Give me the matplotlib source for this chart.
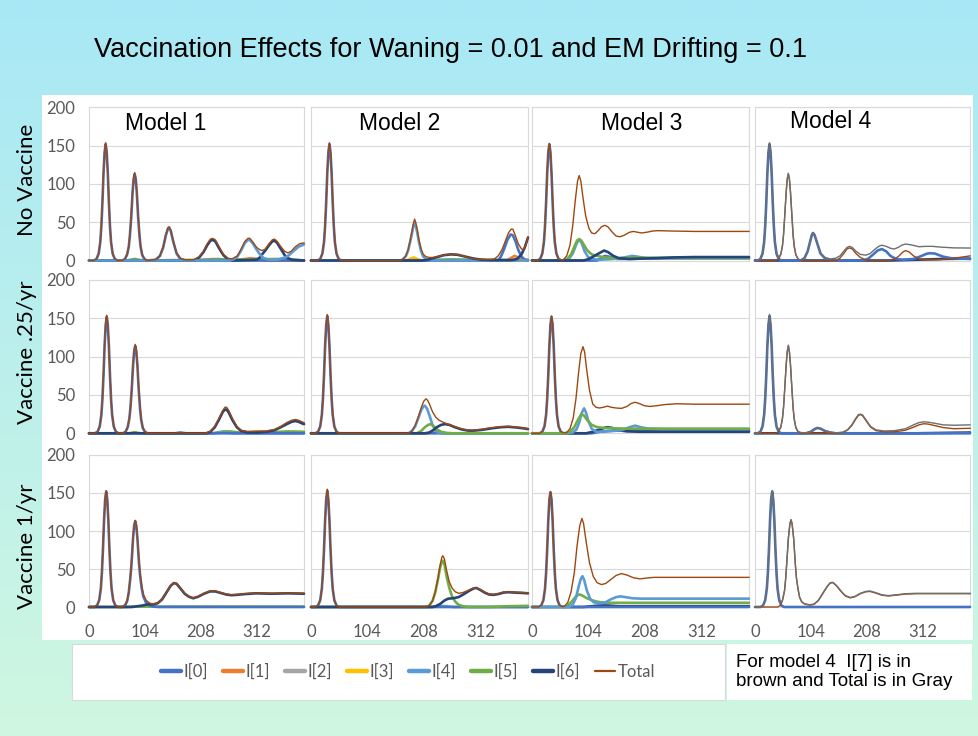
import numpy as np
import matplotlib.pyplot as plt
from matplotlib.lines import Line2D
from matplotlib.patches import Rectangle

# Parameters
W_PX, H_PX, DPI = 979, 736, 100

TITLE = "Vaccination Effects for Waning = 0.01 and EM Drifting = 0.1"
MODELS = ["Model 1", "Model 2", "Model 3", "Model 4"]
ROW_NAMES = ["No Vaccine", "Vaccine .25/yr", "Vaccine 1/yr"]
X_TICKS = [0, 104, 208, 312]
Y_TICKS = [0, 50, 100, 150, 200]
LEGEND_KEYS = ["I0", "I1", "I2", "I3", "I4", "I5", "I6", "Total"]
LEGEND_NAMES = ["I[0]", "I[1]", "I[2]", "I[3]", "I[4]", "I[5]", "I[6]", "Total"]
NOTE = "For model 4  I[7] is in\nbrown and Total is in Gray"

COLORS = {"I0": "#4472C4", "I1": "#ED7D31", "I2": "#A5A5A5", "I3": "#FFC000",
          "I4": "#5B9BD5", "I5": "#70AD47", "I6": "#264478", "I7": "#9E480E",
          "Total": "#9E480E"}
M4_TOTAL_COLOR = "#6E6E6E"

# ---------------- data: (week, infected) ----------------
# No vaccine
NV_M1_TOTAL = [(0, 0), (9, 0), (14, 2), (18, 9), (21, 25), (23, 46), (25, 77), (27, 115), (29, 143), (31, 154),
               (33, 143), (35, 115), (37, 77), (39, 46), (41, 25), (44, 9), (48, 2), (53, 0), (62, 0), (67, 2),
               (71, 8), (74, 19), (76, 33), (78.5, 57), (81, 90), (83, 108), (85, 115), (87, 108), (89, 90),
               (91.5, 57), (94, 33), (96, 19), (99, 8), (103, 2), (108, 0), (124, 1), (132, 6), (138, 18),
               (143, 34), (147, 43), (149, 44), (152, 40), (157, 25), (163, 10), (170, 3), (178, 1), (195, 1),
               (205, 5), (213, 12), (220, 22), (226, 28), (230, 29), (235, 27), (242, 18), (250, 8), (258, 3),
               (266, 2), (276, 6), (283, 15), (290, 25), (296, 29), (299, 29), (305, 24), (312, 17), (318, 14),
               (322, 13), (328, 15), (335, 22), (341, 27), (345, 28), (350, 25), (357, 18), (364, 12), (370, 10),
               (376, 12), (384, 18), (392, 22), (400, 23)]
NV_M1_I0 = [(0, 0), (9, 0), (14, 2), (18, 9), (21, 24), (23, 45), (25, 76), (27, 114), (29, 141), (31, 152),
            (33, 141), (35, 114), (37, 76), (39, 45), (41, 24), (44, 9), (48, 2), (53, 0), (62, 0), (67, 2), (71, 8),
            (74, 18), (76, 32), (78.5, 56), (81, 88), (83, 106), (85, 113), (87, 106), (89, 88), (91.5, 56),
            (94, 32), (96, 18), (99, 7), (103, 2), (108, 0), (124, 1), (132, 6), (138, 17), (143, 33), (147, 42),
            (149, 43), (152, 39), (157, 24), (163, 9), (170, 2), (180, 0), (400, 0)]
NV_M1_I6 = [(0, 0), (195, 0), (205, 4), (213, 11), (220, 20), (226, 26), (230, 27), (235, 25), (242, 16), (250, 7),
            (258, 2), (266, 0), (312, 1), (318, 4), (322, 8), (328, 13), (335, 20), (341, 25), (345, 26), (350, 23),
            (357, 15), (364, 7), (370, 3), (378, 1), (400, 0)]
NV_M1_I4 = [(0, 0), (262, 0), (270, 2), (276, 5), (283, 13), (290, 23), (296, 27), (299, 27), (305, 22), (312, 14),
            (318, 8), (325, 3), (335, 1), (350, 1), (365, 4), (372, 7), (380, 12), (390, 18), (400, 21)]
NV_M1_I1 = [(0, 0), (200, 0), (230, 2), (260, 0), (290, 2), (300, 3), (315, 2), (330, 0), (400, 0)]
NV_M1_I5 = [(0, 0), (70, 0), (85, 2), (100, 0), (220, 1), (240, 2), (260, 1), (350, 2), (380, 1), (400, 0)]

NV_M2_TOTAL = [(0, 0), (12, 0), (17, 2), (21, 9), (24, 25), (26, 46), (28, 77), (30, 115), (32, 143), (34, 154),
               (36, 143), (38, 115), (40, 77), (42, 46), (44, 25), (47, 9), (51, 2), (56, 0), (165, 0), (170, 2),
               (175, 6), (179, 14), (183, 27), (186, 38), (189, 49), (191, 54), (193, 50), (196, 40), (199, 27),
               (203, 15), (207, 8), (212, 5), (218, 4), (225, 4), (232, 5), (245, 7), (258, 8.5), (268, 8),
               (280, 6), (295, 3), (310, 1.5), (325, 1), (338, 2), (345, 6), (352, 14), (358, 25), (364, 36),
               (369, 41), (372, 41), (376, 34), (382, 22), (388, 15), (392, 14), (396, 20), (400, 31)]
NV_M2_I4 = [(0, 0), (165, 0), (170, 2), (175, 6), (179, 13), (183, 25), (186, 35), (189, 46), (191, 49),
            (193, 46), (196, 36), (199, 24), (203, 12), (207, 5), (212, 2), (220, 0), (400, 0)]
NV_M2_I0 = [(0, 0), (12, 0), (17, 2), (21, 9), (24, 24), (26, 45), (28, 76), (30, 114), (32, 141), (34, 152),
            (36, 141), (38, 114), (40, 76), (42, 45), (44, 24), (47, 9), (51, 2), (56, 0), (345, 0), (350, 5),
            (356, 15), (362, 27), (368, 34), (372, 33), (377, 25), (382, 14), (388, 5), (394, 1), (400, 0)]
NV_M2_I3 = [(0, 0), (175, 0), (185, 3), (190, 4), (196, 2), (205, 0), (400, 0)]
NV_M2_I6 = [(0, 0), (205, 0), (215, 1), (230, 4), (245, 7), (258, 8), (270, 7.5), (285, 5), (300, 2.5), (315, 1),
            (330, 0.5), (370, 0.5), (380, 2), (388, 8), (394, 17), (400, 30)]
NV_M2_I1 = [(0, 0), (180, 0), (190, 2), (200, 0), (360, 0), (368, 3), (375, 6), (382, 4), (390, 2), (400, 1)]
NV_M2_I5 = [(0, 0), (200, 0), (230, 1), (260, 1.5), (300, 1), (400, 0.5)]

NV_M3_TOTAL = [(0, 0), (10, 0), (15, 2), (19, 9), (22, 25), (24, 46), (26, 77), (28, 115), (30, 143), (32, 153),
               (34, 143), (36, 115), (38, 77), (40, 46), (42, 25), (45, 9), (49, 2), (54, 1), (58, 1), (64, 6),
               (70, 20), (75, 45), (80, 80), (84, 104), (87, 111), (90, 104), (94, 82), (99, 58), (105, 42),
               (110, 36), (116, 35), (122, 39), (128, 44), (134, 46), (140, 44), (148, 37), (155, 32), (162, 31),
               (170, 33), (180, 37), (187, 38), (194, 37), (202, 36), (212, 37), (222, 38.5), (232, 39),
               (260, 38.5), (300, 38), (400, 38)]
NV_M3_I0 = [(0, 0), (10, 0), (15, 2), (19, 9), (22, 24), (24, 45), (26, 76), (28, 114), (30, 141), (32, 152),
            (34, 141), (36, 114), (38, 76), (40, 45), (42, 24), (45, 9), (49, 2), (54, 0), (120, 0), (128, 3),
            (134, 6), (142, 5), (155, 2), (180, 2), (220, 3), (400, 3)]
NV_M3_I5 = [(0, 0), (55, 0), (65, 2), (72, 8), (78, 18), (83, 26), (87, 28), (91, 26), (96, 20), (102, 13),
            (110, 8), (120, 6), (135, 4), (160, 3), (190, 4), (220, 3.5), (400, 3.5)]
NV_M3_I4 = [(0, 0), (60, 0), (68, 2), (75, 9), (81, 20), (85, 26), (88, 27), (92, 22), (97, 12), (103, 5),
            (110, 2), (125, 1), (150, 2), (170, 4), (185, 6), (195, 5), (210, 3), (240, 3), (400, 3)]
NV_M3_I6 = [(0, 0), (95, 0), (105, 2), (115, 6), (125, 10), (133, 13), (140, 11), (150, 6), (160, 3), (180, 2),
            (200, 2.5), (230, 3), (260, 4), (300, 4.5), (400, 4.5)]

NV_M4_I0 = [(0, 0), (5, 0), (10, 2), (14, 9), (17, 24), (19, 45), (21, 76), (23, 114), (25, 141), (27, 152),
            (29, 141), (31, 114), (33, 76), (35, 45), (37, 24), (40, 9), (44, 2), (49, 0), (85, 0), (92, 3),
            (98, 12), (103, 26), (106, 34), (108, 36), (111, 33), (116, 22), (122, 9), (130, 3), (140, 0),
            (200, 0), (210, 2), (220, 8), (228, 13), (236, 15), (244, 12), (252, 6), (262, 2), (275, 1), (295, 2),
            (310, 6), (320, 9), (327, 9.5), (335, 9), (350, 5), (365, 3), (400, 2)]
NV_M4_I7 = [(0, 0), (39, 0), (44, 2), (48, 8), (51, 19), (53, 33), (55, 54), (58, 89), (60, 106), (62, 113),
            (64, 106), (66, 89), (69, 54), (71, 32), (73, 18), (76, 7), (80, 2), (85, 0), (150, 0), (158, 3),
            (165, 9), (171, 15), (176, 16.5), (181, 15), (188, 9), (196, 4), (205, 1), (220, 0), (250, 0),
            (260, 2), (268, 6), (275, 11), (280, 13), (287, 11), (295, 6), (305, 2), (320, 1), (340, 1), (360, 2),
            (380, 4), (400, 6)]
NV_M4_TOTAL = [(0, 0), (5, 0), (10, 2), (14, 9), (17, 25), (19, 46), (21, 77), (23, 115), (25, 143), (27, 154),
               (29, 143), (31, 115), (33, 77), (35, 46), (37, 25), (40, 9), (44, 4), (48, 8), (51, 19), (53, 33),
               (55, 55), (58, 90), (60, 107), (62, 114), (64, 107), (66, 90), (69, 55), (71, 33), (73, 19),
               (76, 8), (80, 2), (85, 0.5), (92, 3), (98, 12), (103, 26), (106, 34), (108, 36), (111, 33),
               (116, 22), (122, 9), (130, 4), (140, 2), (150, 3), (158, 6), (165, 12), (171, 17), (176, 18.5),
               (181, 17), (188, 12), (196, 8), (206, 7), (214, 9), (222, 14), (230, 18.5), (236, 20), (244, 18.5),
               (252, 16), (259, 15), (266, 17), (273, 20), (280, 21.5), (290, 20.5), (305, 18), (318, 18.5),
               (330, 18.5), (345, 17.5), (370, 16.5), (400, 16.3)]
NV_M4_I6 = [(0, 0), (250, 0), (300, 1), (350, 2), (400, 2.5)]

# Vaccine .25/yr
V25_M1_TOTAL = [(0, 0), (11, 0), (16, 2), (20, 9), (23, 25), (25, 46), (27, 77), (29, 115), (31, 143), (33, 154),
                (35, 143), (37, 115), (39, 77), (41, 46), (43, 25), (46, 9), (50, 2), (55, 0), (63, 0), (68, 2),
                (72, 8), (75, 19), (77, 33), (79.5, 58), (82, 91), (84, 109), (86, 116), (88, 109), (90, 91),
                (92.5, 58), (95, 33), (97, 19), (100, 8), (104, 2), (109, 0), (160, 0), (170, 1), (180, 0),
                (218, 0), (226, 3), (234, 9), (242, 20), (249, 30), (253, 34), (256, 34), (260, 30), (267, 19),
                (275, 9), (283, 4), (295, 2.5), (312, 3), (330, 3), (345, 5), (357, 9), (368, 14), (377, 17),
                (384, 18), (390, 17), (396, 15), (400, 14)]
V25_M1_I0 = [(0, 0), (11, 0), (16, 2), (20, 9), (23, 24), (25, 45), (27, 76), (29, 114), (31, 141), (33, 152),
             (35, 141), (37, 114), (39, 76), (41, 45), (43, 24), (46, 9), (50, 2), (55, 0), (63, 0), (68, 2),
             (72, 8), (75, 19), (77, 32), (79.5, 57), (82, 89), (84, 107), (86, 114), (88, 107), (90, 89),
             (92.5, 57), (95, 32), (97, 18), (100, 7), (104, 2), (109, 0), (160, 0), (170, 1), (180, 0), (400, 0)]
V25_M1_I6 = [(0, 0), (218, 0), (226, 2), (234, 8), (242, 18), (249, 28), (253, 31), (256, 31), (260, 27),
             (267, 17), (275, 8), (283, 3), (295, 1), (312, 1), (330, 2), (345, 4), (357, 8), (368, 12), (377, 15),
             (384, 16), (390, 15), (396, 13), (400, 12)]
V25_M1_I5 = [(0, 0), (75, 0), (85, 1.5), (95, 0), (230, 0), (250, 2.5), (262, 2.5), (280, 1), (330, 1),
             (370, 2.5), (400, 2)]
V25_M1_I4 = [(0, 0), (230, 0), (250, 1), (270, 0), (400, 0)]

V25_M2_TOTAL = [(0, 0), (8, 0), (13, 2), (17, 9), (20, 25), (22, 46), (24, 77), (26, 115), (28, 143), (30, 155),
                (32, 143), (34, 115), (36, 77), (38, 46), (40, 25), (43, 9), (47, 2), (52, 0), (180, 0), (186, 3),
                (192, 10), (198, 22), (204, 35), (208, 42), (212, 45), (215, 43), (219, 37), (224, 28), (230, 21),
                (236, 17), (242, 15), (250, 12.5), (260, 10), (272, 7), (285, 4.5), (298, 4), (312, 5), (330, 7),
                (348, 8.5), (364, 9), (380, 8), (392, 7), (400, 6)]
V25_M2_I0 = [(0, 0), (8, 0), (13, 2), (17, 9), (20, 24), (22, 45), (24, 76), (26, 114), (28, 141), (30, 153),
             (32, 141), (34, 114), (36, 76), (38, 45), (40, 24), (43, 9), (47, 2), (52, 0), (400, 0)]
V25_M2_I4 = [(0, 0), (180, 0), (186, 3), (192, 9), (198, 20), (203, 30), (207, 35), (210, 36), (214, 32),
             (219, 22), (224, 11), (229, 4), (234, 1), (240, 0), (400, 0)]
V25_M2_I5 = [(0, 0), (195, 0), (203, 3), (210, 8), (216, 11), (220, 12), (225, 10), (232, 5), (240, 2),
             (250, 0.5), (260, 0), (400, 0)]
V25_M2_I6 = [(0, 0), (210, 0), (218, 1), (225, 4), (232, 8), (240, 11), (247, 12), (255, 11), (265, 8), (278, 5),
             (290, 3.5), (300, 3.5), (315, 4.5), (333, 6.5), (350, 8), (364, 8.5), (380, 7.5), (392, 6.5),
             (400, 5.5)]
V25_M2_I3 = [(0, 0), (215, 0), (225, 1.5), (235, 1.5), (245, 0), (400, 0)]

V25_M3_TOTAL = [(0, 0), (14, 0), (19, 2), (23, 9), (26, 25), (28, 46), (30, 77), (32, 115), (34, 143), (36, 153),
                (38, 143), (40, 115), (42, 77), (44, 46), (46, 25), (49, 9), (53, 2), (58, 0.5), (64, 1), (70, 6),
                (76, 20), (81, 45), (86, 80), (90, 104), (94, 113), (97, 106), (101, 82), (106, 56), (112, 38),
                (118, 34), (124, 33), (132, 34), (139, 35.5), (146, 34), (155, 33), (165, 32.5), (175, 35),
                (183, 39), (190, 40.5), (197, 39), (207, 36), (217, 35), (230, 36), (245, 37.5), (266, 38.5),
                (300, 38), (400, 38)]
V25_M3_I0 = [(0, 0), (14, 0), (19, 2), (23, 9), (26, 24), (28, 45), (30, 76), (32, 114), (34, 141), (36, 152),
             (38, 141), (40, 114), (42, 76), (44, 45), (46, 24), (49, 9), (53, 2), (58, 0), (110, 0), (125, 2),
             (140, 3), (160, 3.5), (400, 3.5)]
V25_M3_I4 = [(0, 0), (65, 0), (75, 1), (82, 5), (87, 14), (92, 27), (96, 32.5), (99, 28), (104, 16), (110, 6),
             (118, 2), (130, 2), (145, 3), (165, 4), (180, 8), (190, 10), (200, 8), (215, 6), (240, 5.5),
             (400, 5.5)]
V25_M3_I5 = [(0, 0), (60, 0), (70, 2), (78, 8), (85, 18), (91, 25), (96, 23), (102, 17), (110, 11), (120, 8),
             (133, 7), (150, 6.5), (180, 6), (220, 6), (400, 6)]
V25_M3_I6 = [(0, 0), (100, 0), (112, 2), (125, 5), (135, 7.5), (140, 8), (148, 7), (160, 4), (175, 2.5),
             (200, 2), (400, 2)]

V25_M4_I0 = [(0, 0), (5, 0), (10, 2), (14, 9), (17, 24), (19, 45), (21, 76), (23, 114), (25, 141), (27, 153),
             (29, 141), (31, 114), (33, 76), (35, 45), (37, 24), (40, 9), (44, 2), (49, 0), (95, 0), (104, 2),
             (111, 5.5), (116, 7), (122, 6), (130, 3), (140, 1), (150, 0), (400, 0)]
V25_M4_I7 = [(0, 0), (39, 0), (44, 2), (48, 8), (51, 19), (53, 33), (55, 54), (58, 89), (60, 106), (62, 114),
             (64, 106), (66, 89), (69, 54), (71, 32), (73, 18), (76, 7), (80, 2), (85, 0), (150, 0), (163, 1),
             (172, 4), (180, 10), (187, 18), (192, 23), (196, 24.5), (200, 23), (207, 16), (215, 8), (225, 3.5),
             (240, 2), (260, 2), (280, 4), (295, 8), (305, 11), (314, 12.5), (322, 12), (335, 10), (350, 7.5),
             (370, 6), (400, 6.5)]
V25_M4_TOTAL = [(0, 0), (5, 0), (10, 2), (14, 9), (17, 25), (19, 46), (21, 77), (23, 115), (25, 143), (27, 155),
                (29, 143), (31, 115), (33, 77), (35, 46), (37, 25), (40, 9), (44, 4), (48, 8), (51, 19), (53, 33),
                (55, 55), (58, 90), (60, 107), (62, 115), (64, 107), (66, 90), (69, 55), (71, 33), (73, 19),
                (76, 8), (80, 2.5), (85, 1), (95, 0.5), (104, 2.5), (111, 6), (116, 7), (122, 6.5), (130, 3.5),
                (140, 1.5), (150, 0.5), (163, 1.5), (172, 4.5), (180, 11), (187, 19), (192, 24), (196, 25),
                (200, 24), (207, 17), (215, 9), (225, 4.5), (240, 3), (260, 3.5), (280, 6), (295, 11), (305, 14),
                (314, 15), (322, 14.5), (335, 13), (350, 11), (370, 10.5), (400, 11)]
V25_M4_I6 = [(0, 0), (300, 0), (400, 1)]

# Vaccine 1/yr
V1_M1_TOTAL = [(0, 0), (10, 0), (15, 2), (19, 9), (22, 25), (24, 46), (26, 77), (28, 115), (30, 143), (32, 153),
               (34, 143), (36, 115), (38, 77), (40, 46), (42, 25), (45, 9), (49, 2), (54, 0), (62, 0), (67, 2),
               (71, 8), (74, 20), (77, 40), (79, 57), (82, 92), (84, 108), (86, 114), (88, 108), (90, 92),
               (93, 60), (95, 45), (98, 28), (101, 17), (106, 9), (113, 5), (120, 4), (128, 5), (136, 10),
               (144, 19), (152, 28), (158, 32), (163, 31), (170, 25), (178, 18), (186, 14), (194, 12), (203, 14),
               (214, 18), (225, 21), (235, 21), (245, 19), (255, 17), (265, 16), (275, 16.5), (290, 17.5),
               (310, 18.5), (340, 18), (370, 18.5), (400, 18)]
V1_M1_I0 = [(0, 0), (10, 0), (15, 2), (19, 9), (22, 24), (24, 45), (26, 76), (28, 114), (30, 141), (32, 152),
            (34, 141), (36, 114), (38, 76), (40, 45), (42, 24), (45, 9), (49, 2), (54, 0), (62, 0), (67, 2),
            (71, 8), (74, 19), (77, 39), (79, 56), (82, 91), (84, 107), (86, 113), (88, 107), (90, 91), (93, 58),
            (95, 42), (98, 25), (101, 14), (106, 6), (113, 2), (120, 0.5), (130, 0), (400, 0)]
V1_M1_I6 = [(0, 0), (80, 0), (90, 1), (100, 2), (106, 3), (113, 3.5), (120, 3.5), (128, 5), (136, 10), (144, 19),
            (152, 28), (158, 31.5), (163, 30.5), (170, 24.5), (178, 17.5), (186, 13.5), (194, 11.5), (203, 13.5),
            (214, 17.5), (225, 20.5), (235, 20.5), (245, 18.5), (255, 16.5), (265, 15.5), (275, 16), (290, 17),
            (310, 18), (340, 17.5), (370, 18), (400, 17.5)]
V1_M1_I5 = [(0, 0), (70, 0), (80, 0.5), (400, 0.5)]

V1_M2_TOTAL = [(0, 0), (8, 0), (13, 2), (17, 9), (20, 25), (22, 46), (24, 77), (26, 115), (28, 143), (30, 155),
               (32, 143), (34, 115), (36, 77), (38, 46), (40, 25), (43, 9), (47, 2), (52, 0), (212, 0), (218, 2),
               (224, 8), (229, 20), (234, 38), (238, 55), (241, 65), (243, 67.5), (246, 63), (250, 48), (255, 33),
               (260, 25), (266, 20), (272, 18), (280, 19), (290, 22), (298, 24.5), (305, 25), (312, 23),
               (320, 19.5), (328, 17), (336, 16.5), (345, 17.5), (355, 19.5), (364, 20), (375, 19.5), (390, 19),
               (400, 18.5)]
V1_M2_I0 = [(0, 0), (8, 0), (13, 2), (17, 9), (20, 24), (22, 45), (24, 76), (26, 114), (28, 141), (30, 153),
            (32, 141), (34, 114), (36, 76), (38, 45), (40, 24), (43, 9), (47, 2), (52, 0), (400, 0)]
V1_M2_I5 = [(0, 0), (212, 0), (218, 2), (224, 8), (229, 19), (234, 36), (238, 52), (241, 59), (243, 61),
            (246, 56), (250, 40), (255, 25), (260, 14), (266, 7), (272, 3), (280, 1), (290, 0), (330, 0), (360, 1),
            (400, 1.5)]
V1_M2_I6 = [(0, 0), (225, 0), (230, 1), (238, 4), (246, 8.5), (253, 11), (262, 11.5), (272, 13), (282, 17),
            (292, 21.5), (300, 24.5), (305, 25), (312, 22.5), (320, 19), (328, 16.5), (336, 16), (345, 17),
            (355, 19), (364, 19.5), (375, 19), (390, 18.5), (400, 18)]
V1_M2_I4 = [(0, 0), (220, 0), (235, 1.5), (250, 1), (262, 0), (400, 0)]

V1_M3_TOTAL = [(0, 0), (12, 0), (17, 2), (21, 9), (24, 25), (26, 46), (28, 77), (30, 115), (32, 143), (34, 152),
               (36, 143), (38, 115), (40, 77), (42, 46), (44, 25), (47, 9), (51, 2), (56, 0.5), (60, 1), (66, 6),
               (72, 20), (78, 45), (83, 80), (88, 107), (92, 116.5), (95, 110), (100, 85), (106, 58), (113, 40),
               (120, 32), (128, 29.5), (136, 31), (145, 36), (155, 41.5), (165, 44), (175, 42), (187, 38.5),
               (199, 37), (210, 38), (225, 39), (300, 39), (400, 39)]
V1_M3_I0 = [(0, 0), (12, 0), (17, 2), (21, 9), (24, 24), (26, 45), (28, 76), (30, 114), (32, 141), (34, 151),
            (36, 141), (38, 114), (40, 76), (42, 45), (44, 24), (47, 9), (51, 2), (56, 0), (400, 0)]
V1_M3_I4 = [(0, 0), (68, 0), (75, 3), (81, 12), (86, 27), (90, 37), (93, 40.5), (96, 36), (101, 22), (107, 11),
            (114, 6), (125, 5), (135, 6), (145, 10), (155, 13), (163, 14), (172, 13), (185, 11.5), (200, 11),
            (400, 11)]
V1_M3_I5 = [(0, 0), (58, 0), (66, 2), (73, 7), (80, 13), (85, 16), (88, 16.5), (93, 15), (100, 12), (110, 9),
            (120, 7), (134, 5.6), (160, 5.5), (400, 5.5)]
V1_M3_I6 = [(0, 0), (95, 0), (110, 1), (125, 2), (140, 2), (160, 1), (200, 1), (400, 1)]

V1_M4_I0 = [(0, 0), (10, 0), (15, 2), (19, 9), (22, 24), (24, 45), (26, 76), (28, 114), (30, 141), (32, 152),
            (34, 141), (36, 114), (38, 76), (40, 45), (42, 24), (45, 9), (49, 2), (54, 0), (400, 0)]
V1_M4_TOTAL = [(0, 0), (10, 0), (15, 2), (19, 9), (22, 25), (24, 46), (26, 77), (28, 115), (30, 143), (32, 153),
               (34, 143), (36, 115), (38, 77), (40, 46), (42, 25), (45, 10), (49, 6), (51, 9), (55, 22), (57, 37),
               (59, 57), (62, 90), (65, 110), (67, 115), (69, 110), (72, 90), (75, 57), (77, 39), (80, 24),
               (83, 13), (87, 7), (92, 4.5), (97, 3.5), (103, 3), (110, 4), (118, 9), (126, 18), (134, 27),
               (140, 32), (145, 32.5), (152, 28), (160, 21), (168, 15), (177, 12.5), (186, 14), (196, 18),
               (206, 20.5), (214, 21), (224, 19), (236, 16), (248, 15), (262, 16), (280, 17.5), (300, 18),
               (340, 18), (400, 18)]
V1_M4_I7 = [(0, 0), (42, 0), (47, 2), (51, 8), (55, 21.5), (57, 36.5), (59, 56.5), (62, 89.5), (65, 109.5),
            (67, 114.5), (69, 109.5), (72, 89.5), (75, 56.5), (77, 38.5), (80, 23.5), (83, 12.5), (87, 6.5),
            (92, 4), (97, 3), (103, 2.5), (110, 3.5), (118, 8.5), (126, 17.5), (134, 26.5), (140, 31.5),
            (145, 32), (152, 27.5), (160, 20.5), (168, 14.5), (177, 12), (186, 13.5), (196, 17.5), (206, 20),
            (214, 20.5), (224, 18.5), (236, 15.5), (248, 14.5), (262, 15.5), (280, 17), (300, 17.5), (340, 17.5),
            (400, 17.5)]

# panel (row, col) -> drawing order of (series key, points); Total drawn last
PANELS = {
    (0, 0): [("I1", NV_M1_I1), ("I5", NV_M1_I5), ("I0", NV_M1_I0), ("I6", NV_M1_I6), ("I4", NV_M1_I4), ("Total", NV_M1_TOTAL)],
    (0, 1): [("I5", NV_M2_I5), ("I1", NV_M2_I1), ("I3", NV_M2_I3), ("I0", NV_M2_I0), ("I4", NV_M2_I4), ("I6", NV_M2_I6), ("Total", NV_M2_TOTAL)],
    (0, 2): [("I0", NV_M3_I0), ("I4", NV_M3_I4), ("I5", NV_M3_I5), ("I6", NV_M3_I6), ("Total", NV_M3_TOTAL)],
    (0, 3): [("I6", NV_M4_I6), ("I0", NV_M4_I0), ("I7", NV_M4_I7), ("Total", NV_M4_TOTAL)],
    (1, 0): [("I5", V25_M1_I5), ("I4", V25_M1_I4), ("I0", V25_M1_I0), ("I6", V25_M1_I6), ("Total", V25_M1_TOTAL)],
    (1, 1): [("I3", V25_M2_I3), ("I0", V25_M2_I0), ("I4", V25_M2_I4), ("I5", V25_M2_I5), ("I6", V25_M2_I6), ("Total", V25_M2_TOTAL)],
    (1, 2): [("I0", V25_M3_I0), ("I6", V25_M3_I6), ("I4", V25_M3_I4), ("I5", V25_M3_I5), ("Total", V25_M3_TOTAL)],
    (1, 3): [("I6", V25_M4_I6), ("I0", V25_M4_I0), ("I7", V25_M4_I7), ("Total", V25_M4_TOTAL)],
    (2, 0): [("I5", V1_M1_I5), ("I0", V1_M1_I0), ("I6", V1_M1_I6), ("Total", V1_M1_TOTAL)],
    (2, 1): [("I4", V1_M2_I4), ("I0", V1_M2_I0), ("I5", V1_M2_I5), ("I6", V1_M2_I6), ("Total", V1_M2_TOTAL)],
    (2, 2): [("I6", V1_M3_I6), ("I0", V1_M3_I0), ("I5", V1_M3_I5), ("I4", V1_M3_I4), ("Total", V1_M3_TOTAL)],
    (2, 3): [("I0", V1_M4_I0), ("I7", V1_M4_I7), ("Total", V1_M4_TOTAL)],
}

# layout in pixels of the reference
COL_LEFT = [89, 311, 532, 755]
COL_WIDTH = [215, 217, 217, 215]
ROW_TOP = [107.5, 280, 455]      # y = 200
ROW_ZERO = [260.5, 433.3, 607]   # y = 0
MODEL_LABEL_XY = [(166, 123), (400, 123), (642, 123), (831, 121)]
ROW_LABEL_Y = [180, 352, 546]

GRID = "#D9D9D9"
TICK_COLOR = "#595959"


def fx(px):
    return px / W_PX


def fy(py):
    return 1 - py / H_PX


def main():
    fig = plt.figure(figsize=(W_PX / DPI, H_PX / DPI), dpi=DPI)

    # background gradient + white boards, drawn in pixel coords
    bg = fig.add_axes([0, 0, 1, 1], zorder=-10)
    bg.set_xlim(0, W_PX)
    bg.set_ylim(H_PX, 0)
    bg.axis("off")
    top = np.array([168, 232, 246]) / 255
    bottom = np.array([207, 247, 225]) / 255
    t = np.linspace(0, 1, 256)[:, None]
    grad = (top[None, :] * (1 - t) + bottom[None, :] * t)[:, None, :]
    bg.imshow(grad, extent=[0, W_PX, H_PX, 0], aspect="auto")
    bg.add_patch(Rectangle((42, 95), 931, 545, facecolor="white", edgecolor="none"))
    bg.add_patch(Rectangle((72, 644), 653, 56, facecolor="white", edgecolor=GRID, lw=0.8))
    bg.add_patch(Rectangle((727, 644), 245, 56, facecolor="white", edgecolor="none"))

    fig.text(fx(451), fy(50), TITLE, family="Liberation Sans", fontsize=19.5, ha="center", va="center")

    for r in range(3):
        for c in range(4):
            left, width = COL_LEFT[c], COL_WIDTH[c]
            ax = fig.add_axes([fx(left), fy(ROW_ZERO[r]), width / W_PX, (ROW_ZERO[r] - ROW_TOP[r]) / H_PX])
            ax.set_xlim(0, 400)
            ax.set_ylim(0, 200)
            for s in ax.spines.values():
                s.set_color(GRID)
                s.set_linewidth(0.8)
            ax.set_yticks(Y_TICKS)
            ax.set_xticks(X_TICKS)
            ax.grid(axis="y", color=GRID, lw=0.8)
            ax.set_axisbelow(True)
            ax.tick_params(axis="y", length=0, colors=TICK_COLOR, labelsize=12, pad=10)
            ax.tick_params(axis="x", length=0, colors=TICK_COLOR, labelsize=12, pad=12)
            for lab in ax.get_xticklabels() + ax.get_yticklabels():
                lab.set_family("Lato")
            if c != 0:
                ax.set_yticklabels([])
            if r != 2:
                ax.set_xticklabels([])

            for key, pts in PANELS[(r, c)]:
                xs = [p[0] for p in pts]
                ys = [p[1] for p in pts]
                if key == "Total":
                    color = M4_TOTAL_COLOR if c == 3 else COLORS["Total"]
                    ax.plot(xs, ys, color=color, lw=1.0, clip_on=False, zorder=5)
                elif key == "I7":
                    ax.plot(xs, ys, color=COLORS["I7"], lw=1.0, clip_on=False, zorder=4)
                else:
                    ax.plot(xs, ys, color=COLORS[key], lw=1.9, clip_on=False, zorder=3,
                            solid_capstyle="round")

    for name, (x, y) in zip(MODELS, MODEL_LABEL_XY):
        fig.text(fx(x), fy(y), name, family="Liberation Sans", fontsize=16.5, ha="center", va="center")
    for name, y in zip(ROW_NAMES, ROW_LABEL_Y):
        fig.text(fx(27), fy(y), name, family="Lato", fontsize=16, rotation=90, ha="center", va="center")

    handles = []
    for key in LEGEND_KEYS:
        lw = 1.6 if key == "Total" else 3.2
        handles.append(Line2D([0], [0], color=COLORS[key], lw=lw, solid_capstyle="round"))
    leg = fig.legend(handles, LEGEND_NAMES, loc="center", bbox_to_anchor=(fx(408), fy(672)), ncol=8,
                     frameon=False, handlelength=1.2, handletextpad=0.15, columnspacing=0.9,
                     prop={"family": "Lato", "size": 12})
    for txt in leg.get_texts():
        txt.set_color(TICK_COLOR)

    fig.text(fx(736), fy(672), NOTE, family="Liberation Sans", fontsize=13.5, ha="left", va="center",
             linespacing=1.2)

    fig.savefig("out.png", dpi=DPI)


if __name__ == '__main__':
    main()
